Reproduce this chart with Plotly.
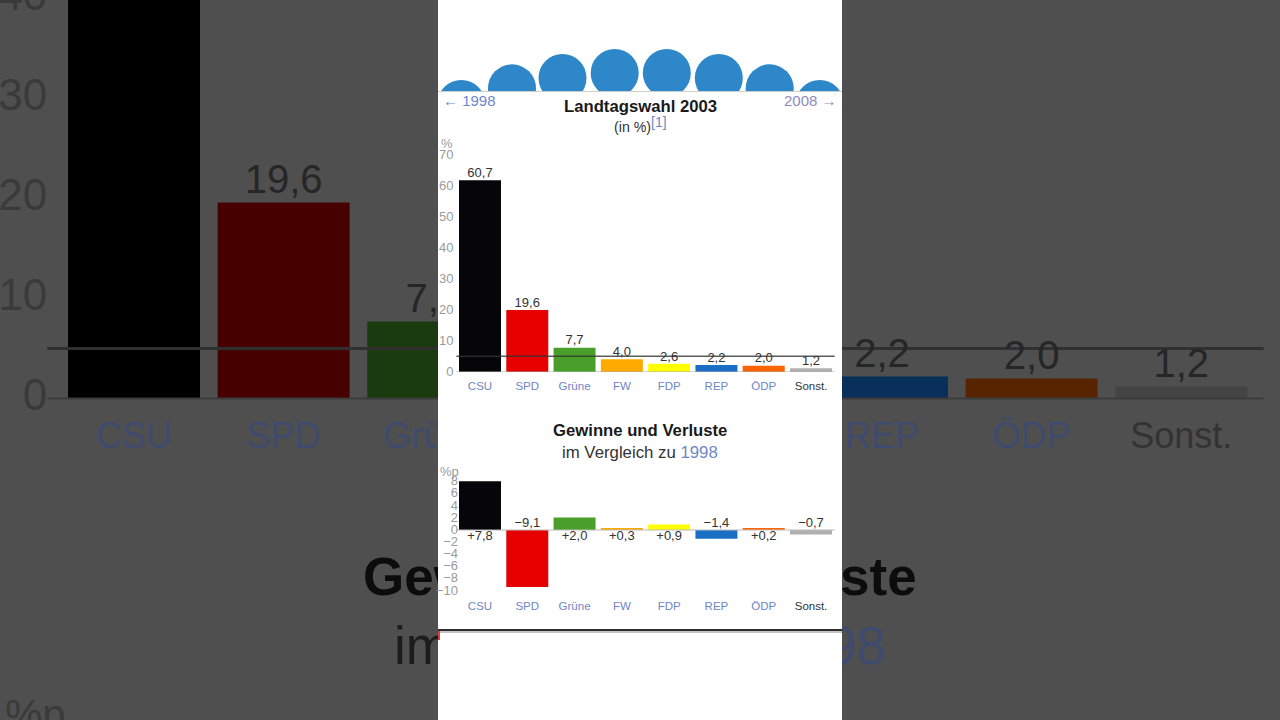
import plotly.graph_objects as go

W, H = 1280, 720
FONT = "Liberation Sans"

# ── DATA ───────────────────────────────────────────────────────────────
parties = ["CSU", "SPD", "Grüne", "FW", "FDP", "REP", "ÖDP", "Sonst."]
results = [60.7, 19.6, 7.7, 4.0, 2.6, 2.2, 2.0, 1.2]
changes = [7.8, -9.1, 2.0, 0.3, 0.9, -1.4, 0.2, -0.7]
threshold = 5

bar_colors = ["#05050a", "#e60000", "#4a9e2a", "#ffaa00", "#ffff00", "#1a6fc4", "#ff6400", "#b0b0b0"]
dim_colors = ["#000000", "#470000", "#1a3a10", "#574000", "#555500", "#08305a", "#582400", "#444444"]

result_ticks = [0, 10, 20, 30, 40, 50, 60, 70]
change_ticks = [8, 6, 4, 2, 0, -2, -4, -6, -8, -10]
big_ticks = [0, 10, 20, 30, 40]

seat_x = [461.3, 512, 562.5, 614.7, 666.8, 718.8, 769.7, 819.7]
seat_y = [104, 88.3, 78, 73, 73, 78, 88.3, 104]

LINK = "#6f86c6"
DIM_LINK = "#3f4b6e"
x_pos = list(range(len(parties)))


def dom_x(a, b):
    return [a / W, b / W]


def dom_y(top, bottom):
    return [1 - bottom / H, 1 - top / H]


def comma(v, sign=False):
    s = f"{abs(v):.1f}".replace(".", ",")
    if sign:
        return ("+" if v >= 0 else "−") + s
    return s


def tick_labels(link):
    return [f'<span style="color:{"#333333" if p.startswith("Sonst") else link}">{p}</span>' for p in parties]


def add_big_copy(fig, xa, ya):
    """Enlarged dimmed chart behind the white panel, clipped by its own subplot."""
    kw = dict(xaxis=xa, yaxis=ya, showlegend=False, hoverinfo="skip")
    fig.add_trace(go.Scatter(x=[-0.58, 7.55], y=[0, 0], mode="lines", line=dict(color="#3c3c3c", width=2), **kw))
    fig.add_trace(go.Bar(x=x_pos, y=results, marker=dict(color=dim_colors, line_width=0), width=0.882, **kw))
    fig.add_trace(go.Scatter(x=[-0.58, 7.55], y=[threshold, threshold], mode="lines",
                             line=dict(color="#303030", width=3), **kw))
    fig.add_trace(go.Scatter(x=x_pos, y=results, mode="text", text=[comma(v) for v in results],
                             textposition="top center", textfont=dict(family=FONT, size=40, color="#262626"), **kw))
    fig.add_trace(go.Scatter(x=x_pos, y=[-4] * 8, mode="text", text=tick_labels(DIM_LINK),
                             textposition="middle center", textfont=dict(family=FONT, size=36, color=DIM_LINK), **kw))
    fig.add_trace(go.Scatter(x=[-0.58] * 5, y=big_ticks, mode="text", text=[str(t) for t in big_ticks],
                             textposition="middle left", textfont=dict(family=FONT, size=44, color="#3a3a3a"), **kw))
    fig.add_trace(go.Scatter(x=[3.382], y=[-18.3], mode="text", text=["<b>Gewinne und Verluste</b>"],
                             textposition="middle center", textfont=dict(family=FONT, size=53, color="#0c0c0c"), **kw))
    fig.add_trace(go.Scatter(x=[3.382], y=[-25.2], mode="text",
                             text=[f'im Vergleich zu <span style="color:{DIM_LINK}">1998</span>'],
                             textposition="middle center", textfont=dict(family=FONT, size=53, color="#1c1c1c"), **kw))
    fig.add_trace(go.Scatter(x=[-0.66], y=[-32], mode="text", text=["%p"],
                             textposition="middle center", textfont=dict(family=FONT, size=42, color="#3a3a3a"), **kw))


fig = go.Figure()

# blurred backdrop, left and right of the panel
add_big_copy(fig, "x", "y")
add_big_copy(fig, "x2", "y2")

# seats
fig.add_trace(go.Scatter(x=seat_x, y=seat_y, mode="markers", xaxis="x3", yaxis="y3", hoverinfo="skip",
                         marker=dict(size=48, color="#2d87c9", line_width=0), showlegend=False))

# top chart
kw = dict(xaxis="x4", yaxis="y4", showlegend=False, hoverinfo="skip")
fig.add_trace(go.Scatter(x=[-0.55, 7.55], y=[0, 0], mode="lines", cliponaxis=False,
                         line=dict(color="#aaaaaa", width=1), **kw))
fig.add_trace(go.Bar(x=x_pos, y=results, width=0.888, marker=dict(color=bar_colors, line_width=0), **kw))
fig.add_trace(go.Scatter(x=x_pos, y=results, mode="text", text=[comma(v) for v in results], cliponaxis=False,
                         textposition="top center", textfont=dict(family=FONT, size=13, color="#333333"), **kw))
fig.add_trace(go.Scatter(x=[-0.55, 7.55], y=[threshold, threshold], mode="lines", cliponaxis=False,
                         line=dict(color="rgba(50,50,50,0.8)", width=1.5), **kw))
fig.add_trace(go.Scatter(x=[0], y=[0], mode="markers", marker_opacity=0, xaxis="x5", yaxis="y5",
                         showlegend=False, hoverinfo="skip"))

# lower chart
kw = dict(xaxis="x6", yaxis="y6", showlegend=False, hoverinfo="skip")
fig.add_trace(go.Scatter(x=[-0.55, 7.55], y=[0, 0], mode="lines", cliponaxis=False,
                         line=dict(color="#bbbbbb", width=1), **kw))
fig.add_trace(go.Bar(x=x_pos, y=changes, width=0.888, marker=dict(color=bar_colors, line_width=0), **kw))
fig.add_trace(go.Scatter(x=[i for i in x_pos if changes[i] >= 0], y=[0] * sum(v >= 0 for v in changes),
                         mode="text", text=[comma(v, True) for v in changes if v >= 0], cliponaxis=False,
                         textposition="bottom center", textfont=dict(family=FONT, size=13, color="#333333"), **kw))
fig.add_trace(go.Scatter(x=[i for i in x_pos if changes[i] < 0], y=[0] * sum(v < 0 for v in changes),
                         mode="text", text=[comma(v, True) for v in changes if v < 0], cliponaxis=False,
                         textposition="top center", textfont=dict(family=FONT, size=13, color="#333333"), **kw))
fig.add_trace(go.Scatter(x=[0], y=[0], mode="markers", marker_opacity=0, xaxis="x7", yaxis="y7",
                         showlegend=False, hoverinfo="skip"))

hidden = dict(visible=False, fixedrange=True, automargin=False)
tick_font = dict(family=FONT, size=13, color="#9a9a9a")
cat_axis = dict(range=[-0.5, 7.5], tickmode="array", tickvals=x_pos, ticktext=tick_labels(LINK), ticks="",
                showgrid=False, zeroline=False, showline=False, ticklabelstandoff=5, automargin=False,
                tickfont=dict(family=FONT, size=11.5, color=LINK), fixedrange=True)
num_axis = dict(tickmode="array", ticks="", showgrid=False, zeroline=False, showline=False, automargin=False,
                tickfont=tick_font, fixedrange=True)

annotations = []


def note(text, x, y, size, color="#333333", anchor="center"):
    annotations.append(dict(text=text, x=x / W, y=1 - y / H, xref="paper", yref="paper", showarrow=False,
                            xanchor=anchor, yanchor="middle", font=dict(family=FONT, size=size, color=color)))


note("<b>Landtagswahl 2003</b>", 640, 106, 16.7, "#1a1a1a")
note("(in %)", 632.5, 127, 14.2)
note("[1]", 658.5, 122, 14, LINK)
note("← 1998", 441, 101, 15, LINK, "left")
note("2008 →", 839, 101, 15, "#9088c0", "right")
note("%", 447, 144, 13, "#9a9a9a")
note("<b>Gewinne und Verluste</b>", 640, 430, 16.7, "#1a1a1a")
note(f'im Vergleich zu <span style="color:{LINK}">1998</span>', 640, 452, 16.8)
note("%p", 449, 471, 13, "#9a9a9a")

shapes = [
    dict(type="rect", xref="paper", yref="paper", x0=438 / W, x1=842 / W, y0=0, y1=1, fillcolor="white",
         line_width=0, layer="below"),
    dict(type="rect", xref="paper", yref="paper", x0=438 / W, x1=842 / W, y0=1 - 92 / H, y1=1 - 91 / H,
         fillcolor="#cfcfcf", line_width=0, layer="below"),
    dict(type="rect", xref="paper", yref="paper", x0=438 / W, x1=842 / W, y0=1 - 631 / H, y1=1 - 629 / H,
         fillcolor="#2e2e2e", line_width=0, layer="below"),
    dict(type="rect", xref="paper", yref="paper", x0=438 / W, x1=842 / W, y0=1 - 633 / H, y1=1 - 631 / H,
         fillcolor="#c4c4c4", line_width=0, layer="below"),
    dict(type="rect", xref="paper", yref="paper", x0=438 / W, x1=440 / W, y0=1 - 640 / H, y1=1 - 631 / H,
         fillcolor="#d84040", line_width=0, layer="below"),
]

fig.update_layout(
    width=W, height=H, margin=dict(l=0, r=0, t=0, b=0, autoexpand=False),
    paper_bgcolor="#4f4f4f", plot_bgcolor="rgba(0,0,0,0)", showlegend=False, barmode="overlay",
    shapes=shapes, annotations=annotations, hovermode=False,
    xaxis=dict(domain=dom_x(0, 438), range=[-0.896, 2.032], **hidden),
    yaxis=dict(domain=[0, 1], range=[-32.15, 39.85], anchor="x", **hidden),
    xaxis2=dict(domain=dom_x(842, 1280), range=[4.733, 7.66], anchor="y2", **hidden),
    yaxis2=dict(domain=[0, 1], range=[-32.15, 39.85], anchor="x2", **hidden),
    xaxis3=dict(domain=dom_x(438, 842), range=[438, 842], anchor="y3", **hidden),
    yaxis3=dict(domain=dom_y(0, 91), range=[91, 0], anchor="x3", **hidden),
    xaxis4=dict(domain=dom_x(456.35, 834.65), anchor="y4", **cat_axis),
    yaxis4=dict(domain=dom_y(150.8, 372), range=[0, 70], anchor="x4", **hidden),
    xaxis5=dict(domain=dom_x(454.5, 455.5), range=[0, 1], anchor="y5", **hidden),
    yaxis5=dict(domain=dom_y(154, 371), range=[0, 70], anchor="x5", tickvals=result_ticks, **num_axis),
    xaxis6=dict(domain=dom_x(456.35, 834.65), anchor="y6", **cat_axis),
    yaxis6=dict(domain=dom_y(480, 592.5), range=[-10, 8], anchor="x6", **hidden),
    xaxis7=dict(domain=dom_x(459, 460), range=[0, 1], anchor="y7", **hidden),
    yaxis7=dict(domain=dom_y(480.7, 590), range=[-10, 8], anchor="x7", tickvals=change_ticks, **num_axis),
)

fig.write_html("out.html", config={"displayModeBar": False},
               post_script="document.body.style.margin='0';")
